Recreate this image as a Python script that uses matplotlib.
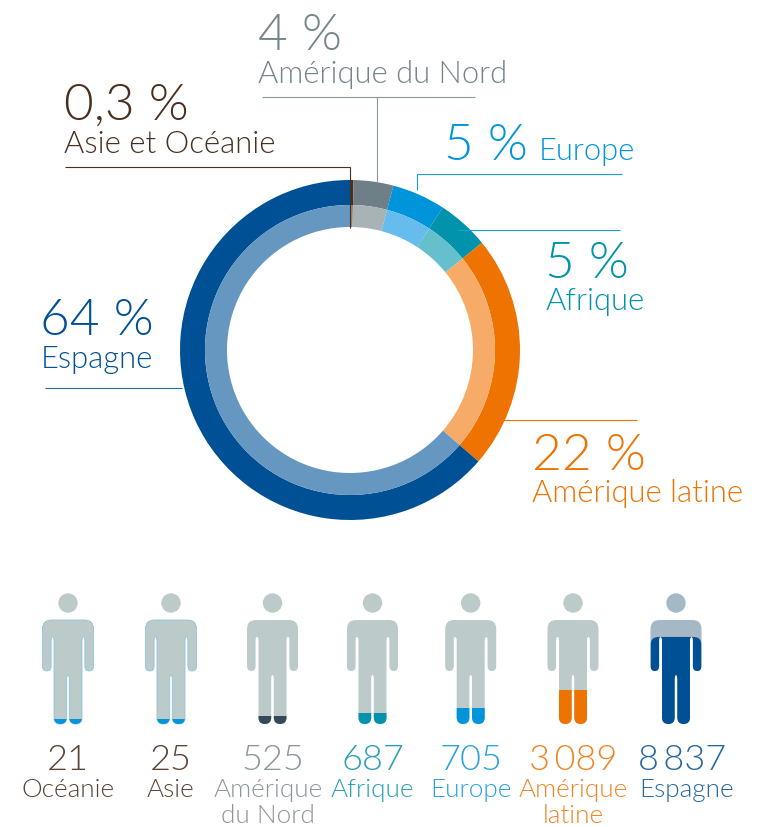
import matplotlib
matplotlib.use("Agg")
import matplotlib.pyplot as plt
from matplotlib.path import Path
from matplotlib.patches import PathPatch, Circle

plt.rcParams['font.family'] = ['Lato', 'DejaVu Sans']

# ---- data ----
ring_regions = ["Asie et Océanie", "Amérique du Nord", "Europe", "Afrique", "Amérique latine", "Espagne"]
ring_values = [46, 525, 705, 687, 3089, 8837]
ring_outer = ["#4a2e1e", "#6f7f87", "#0095db", "#0093ab", "#ef7301", "#005095"]
ring_inner = ["#92827a", "#a9b2b5", "#66bcec", "#66bfcd", "#f6ab68", "#6697c0"]

pct_labels = ["0,3 %", "4 %", "5 %", "5 %", "22 %", "64 %"]
pct_colors = ["#4a2e1e", "#76858b", "#0095db", "#0093ab", "#ef7301", "#005095"]

person_numbers = ["21", "25", "525", "687", "705", "3\u2009089", "8\u2009837"]
person_names = ["Océanie", "Asie", "Amérique\ndu Nord", "Afrique", "Europe", "Amérique\nlatine", "Espagne"]
person_fill = [0.045, 0.045, 0.077, 0.103, 0.151, 0.327, 0.837]
person_colors = ["#0095db", "#0095db", "#34495a", "#0093ab", "#0095db", "#ef7301", "#005095"]
text_colors = ["#5c4335", "#5c4335", "#8b979c", "#2a9fb5", "#26a3e0", "#f28426", "#26669f"]

# ---- layout ----
W, H = 765, 827
fig = plt.figure(figsize=(W / 100, H / 100), dpi=100)
ax = fig.add_axes([0, 0, 1, 1])

CX, CY = 350, 350
ax.pie(ring_values, colors=ring_outer, center=(CX, CY), radius=170, startangle=-90,
       counterclock=True, wedgeprops=dict(width=25, linewidth=0))
ax.pie(ring_values, colors=ring_inner, center=(CX, CY), radius=145, startangle=-90,
       counterclock=True, wedgeprops=dict(width=22, linewidth=0))

ax.set_xlim(0, W)
ax.set_ylim(H, 0)
ax.set_aspect('equal')
ax.axis('off')


def lab(x, y, s, size, color, ha='left'):
    ax.text(x, y, s, fontsize=size, color=color, ha=ha, va='baseline', fontweight=300)


# top labels
LS = 22.3
lab(64.5, 120, pct_labels[0], 37, pct_colors[0])
lab(64.5, 153, ring_regions[0], LS, pct_colors[0])
lab(258, 50, pct_labels[1], 37, pct_colors[1])
lab(258, 83, ring_regions[1], LS, pct_colors[1])
lab(444.5, 160, pct_labels[2], 37, pct_colors[2])
lab(539, 160, ring_regions[2], LS, pct_colors[2])
lab(545.5, 278, pct_labels[3], 37, pct_colors[3])
lab(546, 310, ring_regions[3], LS, pct_colors[3])
lab(532, 470, pct_labels[4], 37, pct_colors[4])
lab(532.5, 502, ring_regions[4], LS, pct_colors[4])
lab(40.5, 335, pct_labels[5], 37, pct_colors[5])
lab(41, 368, ring_regions[5], LS, pct_colors[5])

# leader lines
leaders = [
    ([65, 350, 350], [167, 167, 228], "#4a2e1e"),
    ([262, 475], [97, 97], "#8a979c"),
    ([377, 377], [97, 182], "#8a979c"),
    ([622, 417, 417], [174, 174, 190], "#1a9fdc"),
    ([620, 458], [230, 230], "#1a9fdc"),
    ([637, 498], [420, 420], "#ef7301"),
    ([45, 182], [388, 388], "#1a70b0"),
]
for xs, ys, c in leaders:
    ax.plot(xs, ys, color=c, lw=0.8, solid_capstyle='butt', solid_joinstyle='miter')

M, L, C = Path.MOVETO, Path.LINETO, Path.CURVE3
HW = 25.5


# person outline (offsets from the body axis, y in pixels)
def person_path(cx):
    top, bot = 620, 724
    hw, tw, gap = HW, 14, 1.3
    pts = [
        (-hw + 9, top, M), (hw - 9, top, L), (hw, top, C), (hw, top + 9, C),
        (hw, 666, L), (hw, 671, C), (hw - 4.3, 671, C), (hw - 8.6, 671, C), (hw - 8.6, 666, C),
        (hw - 8.6, 640, L), (hw - 8.6, 637, C), (hw - 9.9, 637, C), (tw, 637, C), (tw, 640, C),
        (tw, bot - 6.5, L), (tw, bot, C), (tw - 6.4, bot, C), (gap, bot, C), (gap, bot - 6.5, C),
        (gap, 679, L), (gap, 675, C), (0, 675, C), (-gap, 675, C), (-gap, 679, C),
        (-gap, bot - 6.5, L), (-gap, bot, C), (-tw + 6.4, bot, C), (-tw, bot, C), (-tw, bot - 6.5, C),
        (-tw, 640, L), (-tw, 637, C), (-hw + 9.9, 637, C), (-hw + 8.6, 637, C), (-hw + 8.6, 640, C),
        (-hw + 8.6, 666, L), (-hw + 8.6, 671, C), (-hw + 4.3, 671, C), (-hw, 671, C), (-hw, 666, C),
        (-hw, top + 9, L), (-hw, top, C), (-hw + 9, top, C), (-hw + 9, top, Path.CLOSEPOLY),
    ]
    return Path([(cx + p[0], p[1]) for p in pts], [p[2] for p in pts])


# fill-level clip: flat top, rounded outer corners when it reaches the shoulders
def clip_path(cx, level, rounded):
    r = 8 if rounded else 0
    w = HW + 4 if not rounded else HW
    pts = [(cx - w, 730, M), (cx + w, 730, L)]
    if rounded:
        pts += [(cx + w, level + r, L), (cx + w, level, C), (cx + w - r, level, C)]
        pts += [(cx - w + r, level, L), (cx - w, level, C), (cx - w, level + r, C)]
    else:
        pts += [(cx + w, level, L), (cx - w, level, L)]
    pts += [(cx - w, 730, L), (cx - w, 730, Path.CLOSEPOLY)]
    return Path([(p[0], p[1]) for p in pts], [p[2] for p in pts])


person_x = [68, 171, 272.5, 372.5, 470.7, 573, 676]
num_x = [68, 171, 272.5, 372.5, 471, 573, 682]
name_x = [68, 171, 268, 372, 471, 573, 687]
for i, cx in enumerate(person_x):
    base = "#a5b8c5" if i == 6 else "#bccaca"
    edge = "#8cc4dc" if i < 2 else "none"
    ax.add_patch(Circle((cx, 603), 9.7, fc=base, ec='none'))
    ax.add_patch(PathPatch(person_path(cx), fc=base, ec=edge, lw=0.6))
    level = 724 - person_fill[i] * 104
    fill = PathPatch(person_path(cx), fc=person_colors[i], ec='none')
    ax.add_patch(fill)
    fill.set_clip_path(clip_path(cx, level, i == 6), ax.transData)
    lab(num_x[i], 770, person_numbers[i], 26, text_colors[i], ha='center')
    for j, line in enumerate(person_names[i].split("\n")):
        lab(name_x[i], 797 + 26 * j, line, 18.8, text_colors[i], ha='center')

fig.savefig("out.png", dpi=100)
